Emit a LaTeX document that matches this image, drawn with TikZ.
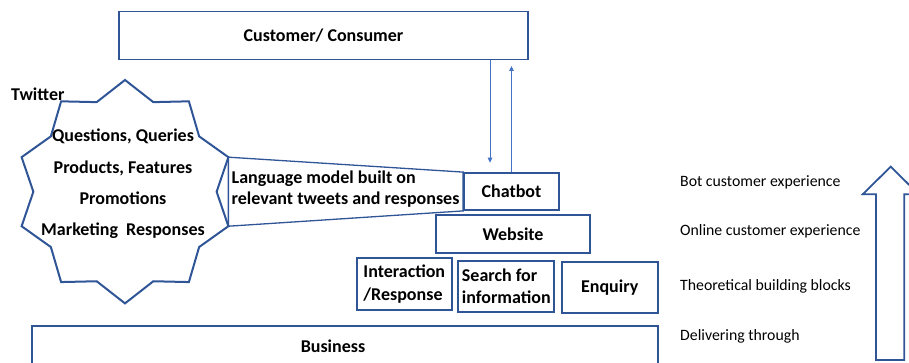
\documentclass[tikz,border=0pt]{standalone}
\usepackage{fontspec}
\setmainfont{Carlito}
\usetikzlibrary{arrows.meta}
\definecolor{boxblue}{HTML}{2F5597}
\definecolor{flowblue}{HTML}{4472C4}
\tikzstyle{b} = [draw=boxblue, line width=1.8pt, rectangle, inner sep=1.5pt, font=\bfseries\fontsize{18}{22.4}\selectfont]

\begin{document}
\begin{tikzpicture}[x=1pt,y=-1pt,
			box/.style={b},
			bold/.style={font=\bfseries\fontsize{18}{21.7}\selectfont, inner sep=0pt},
			tag/.style={anchor=west, inner sep=0pt, font=\fontsize{15.8}{18}\selectfont},
			starline/.style={draw=boxblue, line width=2pt, line join=miter},
			callout/.style={draw=boxblue, line width=1.3pt},
			flow/.style={draw=flowblue, line width=0.9pt, -{Triangle[width=4.5pt,length=5pt]}},
			bigarrow/.style={draw=boxblue, line width=1.8pt}]
			\useasboundingbox (0,0) rectangle (909,363);
			\clip (0,0) rectangle (909,363);
			% twitter star
			\foreach \i in {0,...,19} {
				\pgfmathsetmacro{\r}{ifthenelse(mod(\i,2)==0,1,0.843)}
				\coordinate (tw-\i) at ({125+108.7*\r*cos(90+18*\i)},{191.7-111.7*\r*sin(90+18*\i)});
			}
			\draw[starline] (tw-0) \foreach \i in {1,...,19} { -- (tw-\i) } -- cycle;
			\node (twitter)[bold,anchor=west] at (11,94) {Twitter};
			\node (topics)[bold,align=center,font=\bfseries\fontsize{18}{31.4}\selectfont] at (123,184)
				{Questions, Queries\\Products, Features\\Promotions\\Marketing\ \ Responses};
			% boxes
			\node (cust)[box,minimum width=409,minimum height=48] at (323.5,35.5) {Customer/ Consumer};
			\node (chatbot)[box,minimum width=95,minimum height=37] at (511.5,191.5) {Chatbot};
			\node (web)[box,minimum width=154,minimum height=38] at (513,234.3) {Website};
			\node (inter)[box,align=left,minimum width=95,minimum height=52] at (404.3,284.2) {Interaction\\/Response};
			\node (search)[box,align=left,minimum width=96,minimum height=51] at (506.3,286.5) {Search for\\information};
			\node (enq)[box,minimum width=96,minimum height=51.6] at (609.7,287.5) {Enquiry};
			\node (bus)[box,minimum width=626,minimum height=46] at (345,349) {};
			\node (bustxt)[bold] at (333,346.5) {Business};
			% language model callout
			\draw[callout] (tw-16) -- (chatbot.north west) -- (chatbot.south west) -- (tw-14) -- cycle;
			\node (lm)[bold,anchor=west,align=left] at (231.5,189) {Language model built on\\relevant tweets and responses};
			% customer <-> chatbot
			\coordinate (dn) at (490,162.7);
			\coordinate (up) at (511.5,66);
			\draw[flow] (cust.south -| dn) -- (dn);
			\draw[flow] (chatbot.north) -- (up);
			% levels
			\node (l1)[tag] at (680,182.3) {Bot customer experience};
			\node (l2)[tag] at (680,231) {Online customer experience};
			\node (l3)[tag] at (680,286.7) {Theoretical building blocks};
			\node (l4)[tag] at (680,336.7) {Delivering through};
			\draw[bigarrow] (876,360) -- (876,194.3) -- (862.7,194.3) -- (890.7,166.7) -- (918.7,194.3) -- (904.3,194.3) -- (904.3,360) -- cycle;
		\end{tikzpicture}
\end{document}
